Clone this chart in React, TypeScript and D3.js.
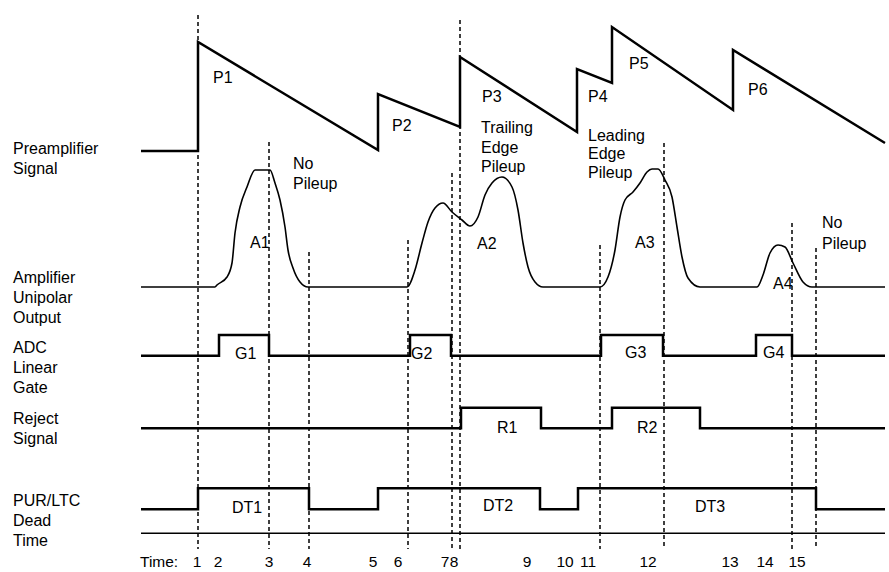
import React from "react";
import * as d3 from "d3";

// ---- time axis (arbitrary time units) ----
const timeLabels = ["1","2","3","4","5","6","7","8","9","10","11","12","13","14","15"];
const timeLabelT = [5.6,7.7,12.8,16.6,23.2,25.7,30.4,31.3,38.6,42.4,44.7,50.7,58.9,62.4,65.6];

// dashed marker lines: time and top end (px)
const markerT = [5.7,12.8,16.8,26.7,31.1,31.9,45.9,52.3,65.1,67.5];
const markerTop = [15,142,252,240,173,20,245,143,223,248];

// ---- preamplifier signal ----
const preampT = [0,5.7,5.7,23.7,23.7,31.9,31.9,43.6,43.6,47.1,47.1,59.2,59.2,74.4];
const preampV = [0,0,10.9,0.1,5.7,2.4,9.4,1.9,8.2,6.8,12.4,4.1,10.1,0.8];

// ---- amplifier unipolar output ----
const ampT = [0,
  7.4,7.6,8.6,9.1,9.4,9.9,10.6,11.4,12.7,12.9,13.4,13.9,14.4,14.7,15.2,15.9,16.7,
  26.6,27.4,28.1,28.7,29.4,30.2,31.1,32.1,32.9,33.7,34.4,35.1,36.1,37.1,37.7,38.2,38.7,39.4,40.2,
  45.9,46.7,47.4,47.9,48.4,49.2,49.9,50.6,51.1,51.7,52.4,53.1,53.6,54.1,54.7,55.9,
  61.6,62.2,62.9,63.7,64.4,65.2,66.2,67.1,74.4];
const ampV = [0,
  0,0.2,1.0,2.4,5.4,8.0,10.0,11.7,11.7,11.7,10.4,8.7,6.0,3.7,1.9,0.5,0,
  0,1.7,4.4,6.5,7.9,8.4,7.5,6.7,6.1,7.0,9.2,10.4,11.0,10.0,7.7,4.4,2.0,0.5,0,
  0,1.0,3.7,7.0,8.7,9.5,10.4,11.5,11.8,11.8,10.7,9.0,6.0,3.0,0.9,0,
  0,1.2,3.4,4.2,4.0,2.4,0.5,0,0];

// ---- logic signals: high intervals ----
const gateHigh: [number, number][] = [[7.8,12.8],[26.9,31.0],[46.0,52.2],[61.5,65.1]];
const rejectHigh: [number, number][] = [[32.0,40.0],[47.1,55.9]];
const deadHigh: [number, number][] = [[5.7,16.8],[23.7,39.9],[43.7,67.5]];

// ---- annotations ----
const annText = ["P1","P2","P3","P4","P5","P6","A1","A2","A3","A4","G1","G2","G3","G4","R1","R2","DT1","DT2","DT3"];
const annT = [7.2,25.1,34.1,44.7,48.8,60.7,10.9,33.6,49.4,63.2,9.4,27.0,48.4,62.2,35.6,49.6,9.1,34.2,55.4];
const annY = [77,125,96,96,63,89,242,243,242,283,353,353,352,352,427,427,507,505,506];

const noteLines = [["No","Pileup"],["Trailing","Edge","Pileup"],["Leading","Edge","Pileup"],["No","Pileup"]];
const noteT = [15.2,34.0,44.7,68.1];
const noteY = [[163,183],[127,147,166],[135,153,172],[222,243]];

const rowLabels = [["Preamplifier","Signal"],["Amplifier","Unipolar","Output"],["ADC","Linear","Gate"],["Reject","Signal"],["PUR/LTC","Dead","Time"]];
const rowLabelY = [[148,168],[277,297,317],[347,367,387],[418,438],[500,520,540]];

const FONT = "'Liberation Sans', Arial, Helvetica, sans-serif";

export default function App() {
  const W = 889, H = 572;
  const x = d3.scaleLinear().domain([0, 74.4]).range([141, 885]);
  const yPre = d3.scaleLinear().domain([0, 12.4]).range([151, 27]);
  const yAmp = d3.scaleLinear().domain([0, 12]).range([287, 167]);
  const yGate = d3.scaleLinear().domain([0, 1]).range([355.7, 335]);
  const yRej = d3.scaleLinear().domain([0, 1]).range([428.3, 407.7]);
  const yDead = d3.scaleLinear().domain([0, 1]).range([509.3, 488.3]);

  const preLine = d3.line<number>().x((t) => x(t)).y((_, i) => yPre(preampV[i]));
  const ampLine = d3.line<number>().x((t) => x(t)).y((_, i) => yAmp(ampV[i])).curve(d3.curveMonotoneX);

  const logicPath = (ints: [number, number][], y: d3.ScaleLinear<number, number>) => {
    const pts: [number, number][] = [[x(0), y(0)]];
    ints.forEach(([a, b]) => {
      pts.push([x(a), y(0)], [x(a), y(1)], [x(b), y(1)], [x(b), y(0)]);
    });
    pts.push([x(74.4), y(0)]);
    return d3.line()(pts) || "";
  };

  return (
    <svg width={W} height={H} style={{ position: "absolute", left: 0, top: 0, background: "#fff" }}
      fontFamily={FONT} fontSize={16}>
      <rect width={W} height={H} fill="#fff" />
      {/* dashed marker lines */}
      {markerT.map((t, i) => (
        <line key={"m" + i} x1={x(t)} x2={x(t)} y1={markerTop[i]} y2={549}
          stroke="#000" strokeWidth={1.5} strokeDasharray="4,3" />
      ))}
      {/* preamplifier */}
      <path d={preLine(preampT) || ""} fill="none" stroke="#000" strokeWidth={2.5} strokeLinejoin="miter" />
      {/* amplifier */}
      <path d={ampLine(ampT) || ""} fill="none" stroke="#000" strokeWidth={1.6} />
      {/* logic signals */}
      <path d={logicPath(gateHigh, yGate)} fill="none" stroke="#000" strokeWidth={2.5} />
      <path d={logicPath(rejectHigh, yRej)} fill="none" stroke="#000" strokeWidth={2.5} />
      <path d={logicPath(deadHigh, yDead)} fill="none" stroke="#000" strokeWidth={2.5} />
      {/* time axis line */}
      <line x1={x(0)} x2={x(74.4)} y1={533.3} y2={533.3} stroke="#000" strokeWidth={1.5} />
      {/* row labels */}
      {rowLabels.map((lines, r) => lines.map((s, j) => (
        <text key={"r" + r + j} x={13} y={rowLabelY[r][j] + 6}>{s}</text>
      )))}
      {/* annotations */}
      {annText.map((s, i) => (
        <text key={"a" + i} x={x(annT[i])} y={annY[i] + 6}>{s}</text>
      ))}
      {noteLines.map((lines, k) => lines.map((s, j) => (
        <text key={"n" + k + j} x={x(noteT[k])} y={noteY[k][j] + 6}>{s}</text>
      )))}
      {/* time labels */}
      <text x={140} y={567} fontSize={15.5}>Time:</text>
      {timeLabels.map((s, i) => (
        <text key={"t" + i} x={x(timeLabelT[i])} y={567} fontSize={15.5} textAnchor="middle">{s}</text>
      ))}
    </svg>
  );
}
